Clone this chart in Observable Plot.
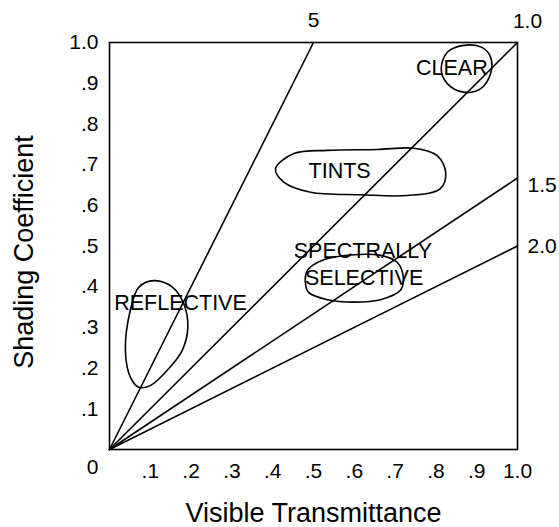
<!DOCTYPE html>
<html>
<head>
<meta charset="utf-8">
<script src="https://cdn.jsdelivr.net/npm/d3@7"></script>
<script src="https://cdn.jsdelivr.net/npm/@observablehq/plot@0.6"></script>
<style>
  html, body { margin: 0; padding: 0; background: #fff; }
  svg { display: block; }
</style>
</head>
<body>
<div id="chart"></div>
<script>
// ---- data ----
const xTickValues = [0.1, 0.2, 0.3, 0.4, 0.5, 0.6, 0.7, 0.8, 0.9, 1.0];
const xTickLabels = [".1", ".2", ".3", ".4", ".5", ".6", ".7", ".8", ".9", "1.0"];
const yTickValues = [0.1, 0.2, 0.3, 0.4, 0.5, 0.6, 0.7, 0.8, 0.9, 1.0];
const yTickLabels = [".1", ".2", ".3", ".4", ".5", ".6", ".7", ".8", ".9", "1.0"];

// ratio lines from origin (VT/SC), end points on the frame
const ratioLabels = ["5", "1.0", "1.5", "2.0"];
const ratioEndVT = [0.5, 1.0, 1.0, 1.0];
const ratioEndSC = [1.0, 1.0, 0.667, 0.5];

// hand-drawn region outlines (VT, SC)
const clearVT = [0.868, 0.828, 0.813, 0.828, 0.868, 0.909, 0.934, 0.934, 0.913];
const clearSC = [0.993, 0.976, 0.935, 0.899, 0.878, 0.886, 0.923, 0.964, 0.988];
const tintsVT = [0.407, 0.452, 0.534, 0.656, 0.746, 0.803, 0.824, 0.811, 0.730, 0.615, 0.493, 0.427];
const tintsSC = [0.690, 0.727, 0.735, 0.737, 0.740, 0.722, 0.681, 0.641, 0.624, 0.626, 0.632, 0.657];
const specVT = [0.485, 0.525, 0.591, 0.664, 0.705, 0.720, 0.713, 0.664, 0.599, 0.534, 0.488, 0.480];
const specSC = [0.440, 0.466, 0.478, 0.477, 0.460, 0.423, 0.391, 0.368, 0.362, 0.368, 0.386, 0.411];
const reflVT = [0.109, 0.072, 0.051, 0.039, 0.051, 0.072, 0.100, 0.141, 0.178, 0.192, 0.182, 0.154];
const reflSC = [0.415, 0.399, 0.342, 0.243, 0.178, 0.153, 0.157, 0.194, 0.243, 0.300, 0.358, 0.399];

// region labels
const regionText = ["CLEAR", "TINTS", "SPECTRALLY", "SELECTIVE", "REFLECTIVE"];
const regionVT = [0.839, 0.564, 0.621, 0.624, 0.174];
const regionSC = [0.937, 0.684, 0.488, 0.421, 0.360];

// ---- build ----
const toPts = (xs, ys) => xs.map((x, i) => ({x, y: ys[i]}));
const rays = ratioLabels.map((lab, i) => ({lab, x: ratioEndVT[i], y: ratioEndSC[i]}));
const rayLines = rays.flatMap(r => [{id: r.lab, x: 0, y: 0}, {id: r.lab, x: r.x, y: r.y}]);
const blobs = [
  ["clear", toPts(clearVT, clearSC)],
  ["tints", toPts(tintsVT, tintsSC)],
  ["spec", toPts(specVT, specSC)],
  ["refl", toPts(reflVT, reflSC)]
];
const regions = regionText.map((t, i) => ({t, x: regionVT[i], y: regionSC[i]}));
const FONT = "'Liberation Sans', Arial, Helvetica, sans-serif";

const chart = Plot.plot({
  width: 559,
  height: 527,
  marginLeft: 109,
  marginRight: 42,
  marginTop: 42,
  marginBottom: 78,
  x: {domain: [0, 1], axis: null},
  y: {domain: [0, 1], axis: null},
  style: {fontFamily: FONT, fontSize: "21px", color: "black", background: "white"},
  marks: [
    Plot.axisX(xTickValues, {tickSize: 0, tickPadding: 14, fontSize: 21, label: null,
      tickFormat: d => xTickLabels[xTickValues.indexOf(d)]}),
    Plot.axisY(yTickValues, {tickSize: 0, tickPadding: 11, fontSize: 21, label: null,
      tickFormat: d => yTickLabels[yTickValues.indexOf(d)]}),
    Plot.text([{x: 0, y: 0}], {x: "x", y: "y", text: () => "0", dx: -17, dy: 18, fontSize: 21}),
    Plot.lineY(rayLines, {x: "x", y: "y", z: "id", stroke: "black", strokeWidth: 1.6}),
    ...blobs.map(([id, pts]) => Plot.line(pts, {x: "x", y: "y", stroke: "black", strokeWidth: 1.6, curve: "catmull-rom-closed"})),
    Plot.frame({stroke: "black", strokeWidth: 1.6}),
    Plot.text(regions, {x: "x", y: "y", text: "t", fontSize: 21.5, fill: "black"}),
    Plot.text(rays.filter(r => r.lab === "5"), {x: "x", y: "y", text: "lab", dy: -22, fontSize: 21}),
    Plot.text(rays.filter(r => r.lab === "1.0"), {x: "x", y: "y", text: "lab", dx: 10, dy: -21, fontSize: 21}),
    Plot.text(rays.filter(r => r.lab === "1.5"), {x: "x", y: "y", text: "lab", dx: 10, dy: 7, textAnchor: "start", fontSize: 21}),
    Plot.text(rays.filter(r => r.lab === "2.0"), {x: "x", y: "y", text: "lab", dx: 10, dy: 0, textAnchor: "start", fontSize: 21}),
    Plot.text(["Visible Transmittance"], {frameAnchor: "bottom", textAnchor: "middle", dy: 72, fontSize: 27}),
    Plot.text(["Shading Coefficient"], {frameAnchor: "left", textAnchor: "middle", dx: -85, dy: 6, rotate: -90, fontSize: 27})
  ]
});
document.getElementById("chart").appendChild(chart);
</script>
</body>
</html>
